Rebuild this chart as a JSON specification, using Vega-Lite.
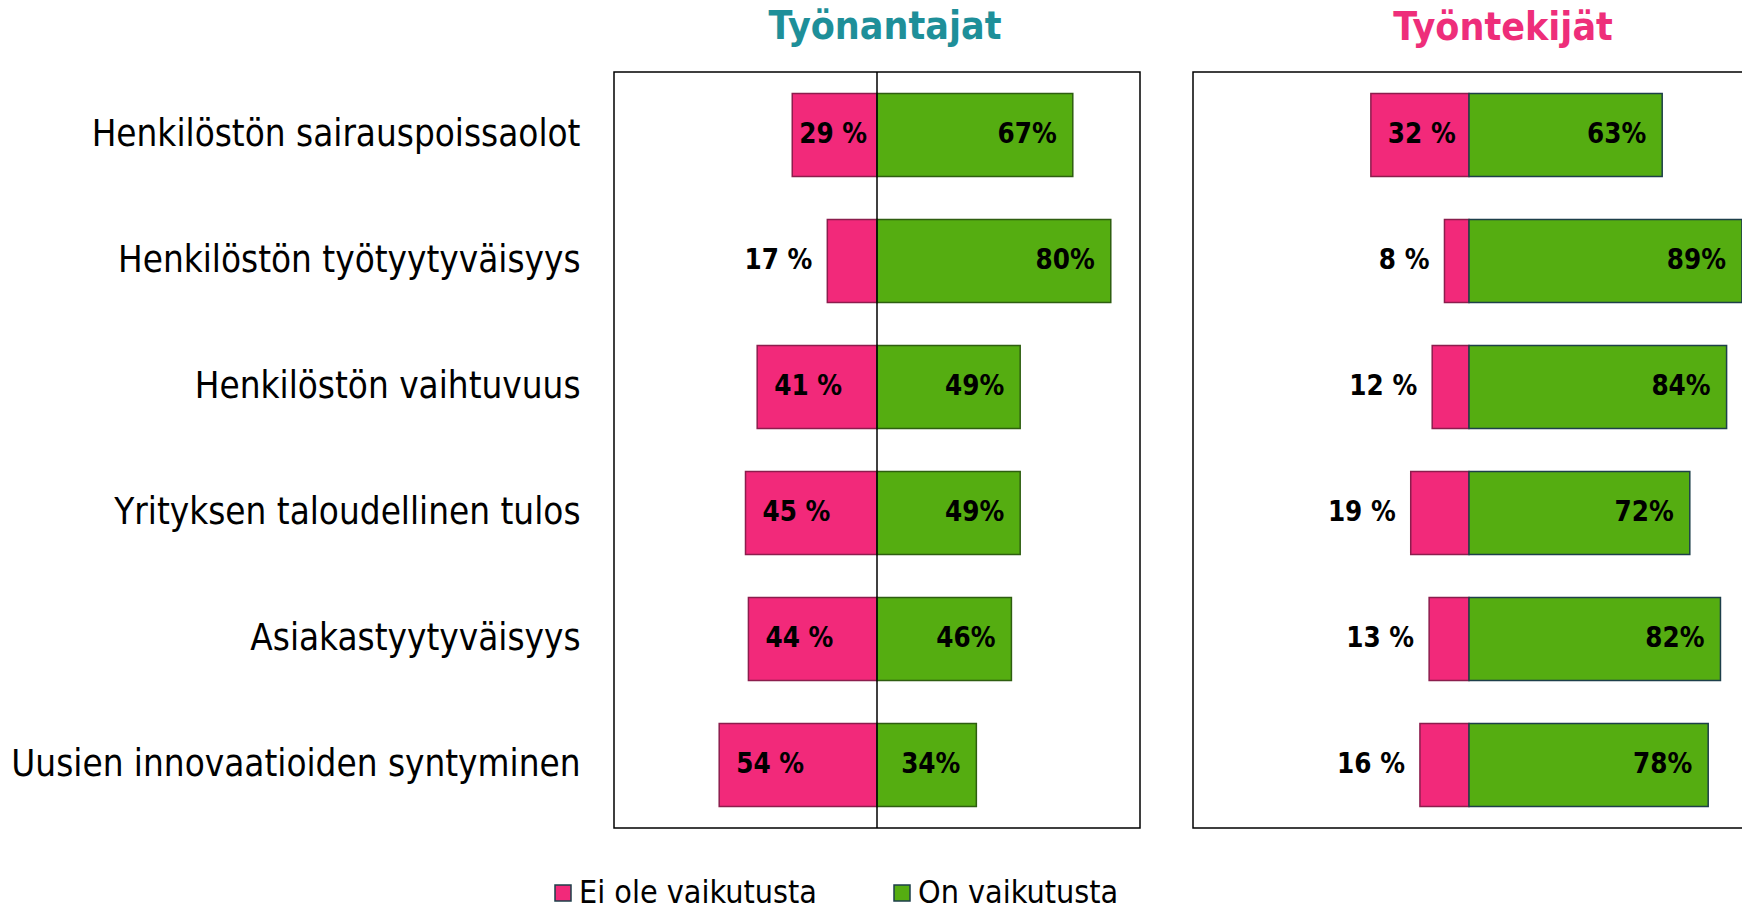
{
  "$schema": "https://vega.github.io/schema/vega-lite/v6.json",
  "padding": {"left": 10, "top": 7, "right": 0, "bottom": 0},
  "background": "white",
  "config": {
    "view": {"stroke": "#000", "strokeWidth": 1.5},
    "font": "DejaVu Sans Condensed",
    "concat": {"spacing": 51}
  },
  "data": {"values": [
    {"group": "Työnantajat", "category": "Henkilöstön sairauspoissaolot", "response": "Ei ole vaikutusta", "value": -29, "label": "29 %"},
    {"group": "Työnantajat", "category": "Henkilöstön sairauspoissaolot", "response": "On vaikutusta", "value": 67, "label": "67%"},
    {"group": "Työnantajat", "category": "Henkilöstön työtyytyväisyys", "response": "Ei ole vaikutusta", "value": -17, "label": "17 %"},
    {"group": "Työnantajat", "category": "Henkilöstön työtyytyväisyys", "response": "On vaikutusta", "value": 80, "label": "80%"},
    {"group": "Työnantajat", "category": "Henkilöstön vaihtuvuus", "response": "Ei ole vaikutusta", "value": -41, "label": "41 %"},
    {"group": "Työnantajat", "category": "Henkilöstön vaihtuvuus", "response": "On vaikutusta", "value": 49, "label": "49%"},
    {"group": "Työnantajat", "category": "Yrityksen taloudellinen tulos", "response": "Ei ole vaikutusta", "value": -45, "label": "45 %"},
    {"group": "Työnantajat", "category": "Yrityksen taloudellinen tulos", "response": "On vaikutusta", "value": 49, "label": "49%"},
    {"group": "Työnantajat", "category": "Asiakastyytyväisyys", "response": "Ei ole vaikutusta", "value": -44, "label": "44 %"},
    {"group": "Työnantajat", "category": "Asiakastyytyväisyys", "response": "On vaikutusta", "value": 46, "label": "46%"},
    {"group": "Työnantajat", "category": "Uusien innovaatioiden syntyminen", "response": "Ei ole vaikutusta", "value": -54, "label": "54 %"},
    {"group": "Työnantajat", "category": "Uusien innovaatioiden syntyminen", "response": "On vaikutusta", "value": 34, "label": "34%"},
    {"group": "Työntekijät", "category": "Henkilöstön sairauspoissaolot", "response": "Ei ole vaikutusta", "value": -32, "label": "32 %"},
    {"group": "Työntekijät", "category": "Henkilöstön sairauspoissaolot", "response": "On vaikutusta", "value": 63, "label": "63%"},
    {"group": "Työntekijät", "category": "Henkilöstön työtyytyväisyys", "response": "Ei ole vaikutusta", "value": -8, "label": "8 %"},
    {"group": "Työntekijät", "category": "Henkilöstön työtyytyväisyys", "response": "On vaikutusta", "value": 89, "label": "89%"},
    {"group": "Työntekijät", "category": "Henkilöstön vaihtuvuus", "response": "Ei ole vaikutusta", "value": -12, "label": "12 %"},
    {"group": "Työntekijät", "category": "Henkilöstön vaihtuvuus", "response": "On vaikutusta", "value": 84, "label": "84%"},
    {"group": "Työntekijät", "category": "Yrityksen taloudellinen tulos", "response": "Ei ole vaikutusta", "value": -19, "label": "19 %"},
    {"group": "Työntekijät", "category": "Yrityksen taloudellinen tulos", "response": "On vaikutusta", "value": 72, "label": "72%"},
    {"group": "Työntekijät", "category": "Asiakastyytyväisyys", "response": "Ei ole vaikutusta", "value": -13, "label": "13 %"},
    {"group": "Työntekijät", "category": "Asiakastyytyväisyys", "response": "On vaikutusta", "value": 82, "label": "82%"},
    {"group": "Työntekijät", "category": "Uusien innovaatioiden syntyminen", "response": "Ei ole vaikutusta", "value": -16, "label": "16 %"},
    {"group": "Työntekijät", "category": "Uusien innovaatioiden syntyminen", "response": "On vaikutusta", "value": 78, "label": "78%"}
  ]},
  "hconcat": [
    {
      "width": 526,
      "height": 756,
      "title": {"text": "Työnantajat", "color": "#1E8F99", "fontSize": 39, "fontWeight": "bold", "offset": 24, "anchor": "middle", "dx": 8},
      "transform": [{"filter": "datum.group === 'Työnantajat'"}],
      "layer": [
        {
          "mark": {"type": "bar", "strokeWidth": 1.5},
          "encoding": {
            "y": {"field": "category", "type": "nominal", "sort": ["Henkilöstön sairauspoissaolot", "Henkilöstön työtyytyväisyys", "Henkilöstön vaihtuvuus", "Yrityksen taloudellinen tulos", "Asiakastyytyväisyys", "Uusien innovaatioiden syntyminen"], "scale": {"paddingInner": 0.34, "paddingOuter": 0.17}, "axis": {"title": null, "domain": false, "ticks": false, "labelFontSize": 36.5, "labelPadding": 34, "labelColor": "#000", "labelLimit": 800}},
            "x": {"field": "value", "type": "quantitative", "stack": null, "scale": {"domain": [-90, 90], "nice": false, "zero": true}, "axis": null},
            "color": {"field": "response", "type": "nominal", "scale": {"domain": ["Ei ole vaikutusta", "On vaikutusta"], "range": ["#F2297A", "#55AD11"]}, "legend": {"title": null, "orient": "none", "legendX": -67, "legendY": 805, "direction": "horizontal", "symbolType": "square", "symbolSize": 256, "symbolStrokeColor": "#5a2a3a", "symbolStrokeWidth": 1.5, "labelFontSize": 32, "labelColor": "#000", "labelOffset": 0, "columnPadding": 69, "labelLimit": 400}},
            "stroke": {"condition": {"test": "datum.value < 0", "value": "#8C1D4D"}, "value": "#2E5E10"}
          }
        },
        {
          "data": {"values": [{}]},
          "mark": {"type": "rule", "color": "#000", "strokeWidth": 1.5},
          "encoding": {"x": {"datum": 0}}
        },
        {
          "transform": [{"filter": "datum.value <= -31"}],
          "mark": {"type": "text", "align": "left", "dx": 17, "fontSize": 27.5, "fontWeight": "bold", "color": "#000"},
          "encoding": {
            "y": {"field": "category", "type": "nominal", "sort": ["Henkilöstön sairauspoissaolot", "Henkilöstön työtyytyväisyys", "Henkilöstön vaihtuvuus", "Yrityksen taloudellinen tulos", "Asiakastyytyväisyys", "Uusien innovaatioiden syntyminen"]},
            "x": {"field": "value", "type": "quantitative"},
            "text": {"field": "label"}
          }
        },
        {
          "transform": [{"filter": "datum.value > -31 && datum.value <= -25"}],
          "mark": {"type": "text", "align": "left", "dx": 7, "fontSize": 27.5, "fontWeight": "bold", "color": "#000"},
          "encoding": {
            "y": {"field": "category", "type": "nominal", "sort": ["Henkilöstön sairauspoissaolot", "Henkilöstön työtyytyväisyys", "Henkilöstön vaihtuvuus", "Yrityksen taloudellinen tulos", "Asiakastyytyväisyys", "Uusien innovaatioiden syntyminen"]},
            "x": {"field": "value", "type": "quantitative"},
            "text": {"field": "label"}
          }
        },
        {
          "transform": [{"filter": "datum.value > -25 && datum.value < 0"}],
          "mark": {"type": "text", "align": "right", "dx": -15, "fontSize": 27.5, "fontWeight": "bold", "color": "#000"},
          "encoding": {
            "y": {"field": "category", "type": "nominal", "sort": ["Henkilöstön sairauspoissaolot", "Henkilöstön työtyytyväisyys", "Henkilöstön vaihtuvuus", "Yrityksen taloudellinen tulos", "Asiakastyytyväisyys", "Uusien innovaatioiden syntyminen"]},
            "x": {"field": "value", "type": "quantitative"},
            "text": {"field": "label"}
          }
        },
        {
          "transform": [{"filter": "datum.value > 0"}],
          "mark": {"type": "text", "align": "right", "dx": -16, "fontSize": 27.5, "fontWeight": "bold", "color": "#000"},
          "encoding": {
            "y": {"field": "category", "type": "nominal", "sort": ["Henkilöstön sairauspoissaolot", "Henkilöstön työtyytyväisyys", "Henkilöstön vaihtuvuus", "Yrityksen taloudellinen tulos", "Asiakastyytyväisyys", "Uusien innovaatioiden syntyminen"]},
            "x": {"field": "value", "type": "quantitative"},
            "text": {"field": "label"}
          }
        }
      ]
    },
    {
      "width": 552,
      "height": 756,
      "title": {"text": "Työntekijät", "color": "#EE2E7A", "fontSize": 39, "fontWeight": "bold", "offset": 24, "anchor": "middle", "dx": 34},
      "transform": [{"filter": "datum.group === 'Työntekijät'"}],
      "encoding": {
        "y": {"field": "category", "type": "nominal", "sort": ["Henkilöstön sairauspoissaolot", "Henkilöstön työtyytyväisyys", "Henkilöstön vaihtuvuus", "Yrityksen taloudellinen tulos", "Asiakastyytyväisyys", "Uusien innovaatioiden syntyminen"], "scale": {"paddingInner": 0.34, "paddingOuter": 0.17}, "axis": null},
        "x": {"field": "value", "type": "quantitative", "stack": null, "scale": {"domain": [-90, 90], "nice": false}, "axis": null}
      },
      "layer": [
        {
          "mark": {"type": "bar", "strokeWidth": 1.5},
          "encoding": {
            "color": {"field": "response", "type": "nominal"},
            "stroke": {"condition": {"test": "datum.value < 0", "value": "#8C1D4D"}, "value": "#1D3F4A"}
          }
        },
        {
          "transform": [{"filter": "datum.value <= -25"}],
          "mark": {"type": "text", "align": "left", "dx": 17, "fontSize": 27.5, "fontWeight": "bold", "color": "#000"},
          "encoding": {"text": {"field": "label"}}
        },
        {
          "transform": [{"filter": "datum.value > -25 && datum.value < 0"}],
          "mark": {"type": "text", "align": "right", "dx": -15, "fontSize": 27.5, "fontWeight": "bold", "color": "#000"},
          "encoding": {"text": {"field": "label"}}
        },
        {
          "transform": [{"filter": "datum.value > 0"}],
          "mark": {"type": "text", "align": "right", "dx": -16, "fontSize": 27.5, "fontWeight": "bold", "color": "#000"},
          "encoding": {"text": {"field": "label"}}
        }
      ]
    }
  ],
  "resolve": {"scale": {"color": "shared"}}
}
